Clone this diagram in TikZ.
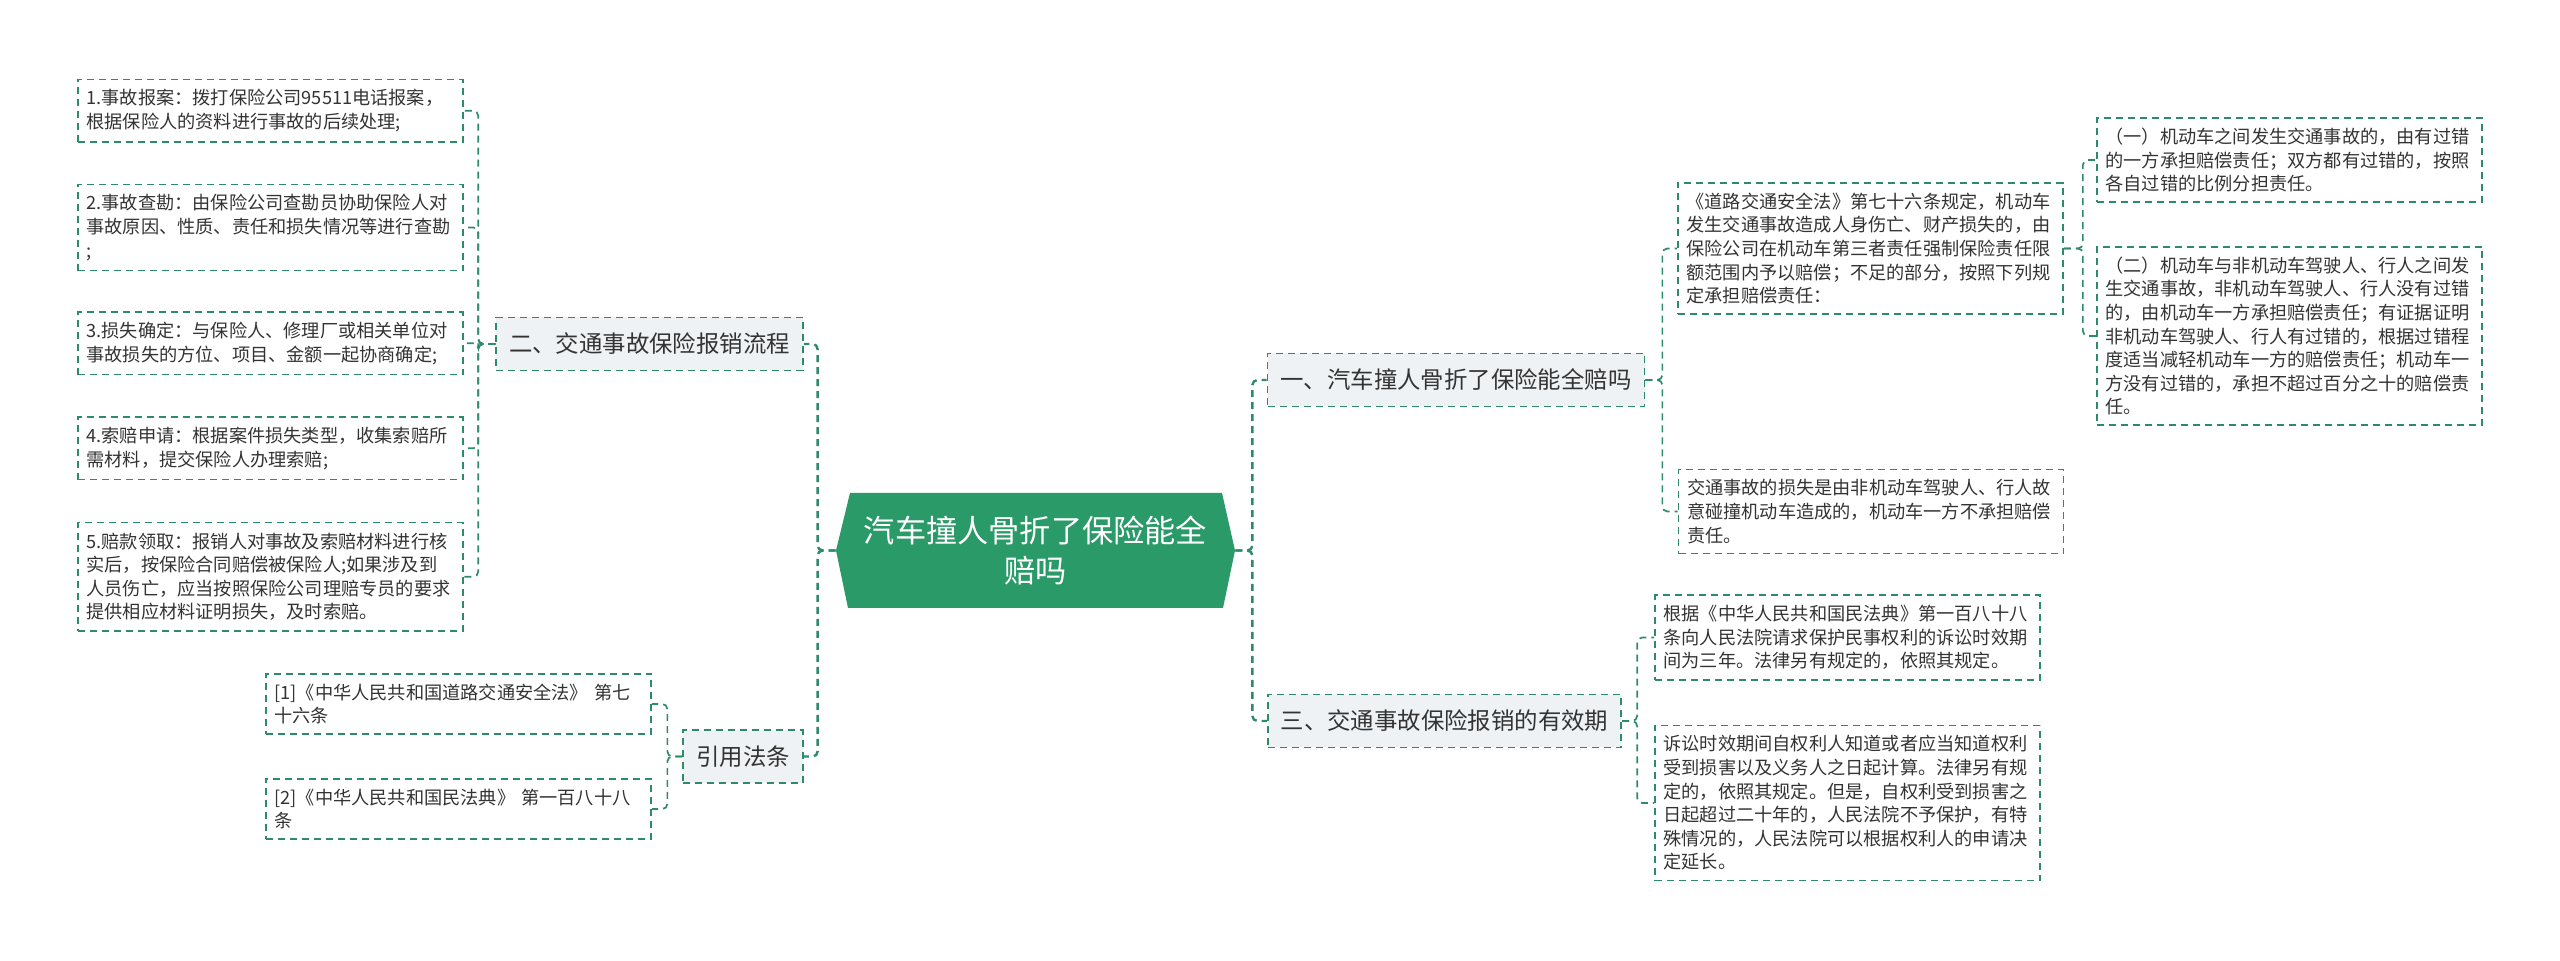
\documentclass[tikz,border=0pt]{standalone}
\usepackage{fontspec}
\setmainfont{Noto Sans CJK SC}
\definecolor{cRoot}{HTML}{2A9A68}
\definecolor{cLine}{HTML}{2E8B67}
\definecolor{cTopic}{HTML}{EEF2F5}
\definecolor{cText}{HTML}{333333}

\begin{document}
\begin{tikzpicture}[
    x=0.5pt, y=-0.5pt,
    dashline/.style={draw=cLine, line width=0.85pt, dash pattern=on 3.5pt off 2.5pt},
    root/.style={minimum width=199.5pt, minimum height=57.5pt, inner sep=0pt, align=center, text=white,
        font=\fontsize{15.6pt}{20pt}\selectfont,
        path picture={\fill[cRoot] (path picture bounding box.west)
            -- ([xshift=7pt]path picture bounding box.north west)
            -- ([xshift=-6.5pt]path picture bounding box.north east)
            -- (path picture bounding box.east)
            -- ([xshift=-6pt]path picture bounding box.south east)
            -- ([xshift=6pt]path picture bounding box.south west) -- cycle;}},
    topic/.style={dashline, fill=cTopic, inner xsep=6.5pt, minimum height=26.5pt, text=cText,
        font=\fontsize{11.7pt}{14pt}\selectfont},
    leaf/.style={dashline, align=left, text width=184pt, inner xsep=4.25pt, inner ysep=5pt, text=cText,
        font=\fontsize{9.1pt}{11.8pt}\selectfont},
    link/.style={dashline, rounded corners=2.5pt},
    trunk/.style={link, line width=1.2pt}
]
\useasboundingbox (0,0) rectangle (2560,961);

\node[root] (root) at (1035.5,550.5) {汽车撞人骨折了保险能全\\赔吗};

\node[topic] (s1) at (1456,380) {一、汽车撞人骨折了保险能全赔吗};
\node[topic] (s3) at (1444.5,721) {三、交通事故保险报销的有效期};
\node[topic] (s2) at (649.5,344) {二、交通事故保险报销流程};
\node[topic] (ref) at (743,756.5) {引用法条};

% right side
\node[leaf] (law) at (1870.5,248.5) {《道路交通安全法》第七十六条规定，机动车\\发生交通事故造成人身伤亡、财产损失的，由\\保险公司在机动车第三者责任强制保险责任限\\额范围内予以赔偿；不足的部分，按照下列规\\定承担赔偿责任：};
\node[leaf] (nonmv) at (1871,511.5) {交通事故的损失是由非机动车驾驶人、行人故\\意碰撞机动车造成的，机动车一方不承担赔偿\\责任。};
\node[leaf] (mv1) at (2289.5,160) {（一）机动车之间发生交通事故的，由有过错\\的一方承担赔偿责任；双方都有过错的，按照\\各自过错的比例分担责任。};
\node[leaf] (mv2) at (2289.5,336) {（二）机动车与非机动车驾驶人、行人之间发\\生交通事故，非机动车驾驶人、行人没有过错\\的，由机动车一方承担赔偿责任；有证据证明\\非机动车驾驶人、行人有过错的，根据过错程\\度适当减轻机动车一方的赔偿责任；机动车一\\方没有过错的，承担不超过百分之十的赔偿责\\任。};
\node[leaf] (civ) at (1847.5,637.5) {根据《中华人民共和国民法典》第一百八十八\\条向人民法院请求保护民事权利的诉讼时效期\\间为三年。法律另有规定的，依照其规定。};
\node[leaf] (suit) at (1847.5,803) {诉讼时效期间自权利人知道或者应当知道权利\\受到损害以及义务人之日起计算。法律另有规\\定的，依照其规定。但是，自权利受到损害之\\日起超过二十年的，人民法院不予保护，有特\\殊情况的，人民法院可以根据权利人的申请决\\定延长。};

% left side
\node[leaf] (flow1) at (270.5,110.8) {1.事故报案：拨打保险公司95511电话报案，\\根据保险人的资料进行事故的后续处理;};
\node[leaf] (flow2) at (270.5,227.5) {2.事故查勘：由保险公司查勘员协助保险人对\\事故原因、性质、责任和损失情况等进行查勘\\;};
\node[leaf] (flow3) at (270.5,343.3) {3.损失确定：与保险人、修理厂或相关单位对\\事故损失的方位、项目、金额一起协商确定;};
\node[leaf] (flow4) at (270.5,448.3) {4.索赔申请：根据案件损失类型，收集索赔所\\需材料，提交保险人办理索赔;};
\node[leaf] (flow5) at (270.5,576.7) {5.赔款领取：报销人对事故及索赔材料进行核\\实后，按保险合同赔偿被保险人;如果涉及到\\人员伤亡，应当按照保险公司理赔专员的要求\\提供相应材料证明损失，及时索赔。};
\node[leaf] (ref1) at (458.5,704) {[1]《中华人民共和国道路交通安全法》 第七\\十六条};
\node[leaf] (ref2) at (458.5,809) {[2]《中华人民共和国民法典》 第一百八十八\\条};

\draw[trunk] (root.east) -- ++(17,0) |- (s1.west);
\draw[trunk] (root.east) -- ++(17,0) |- (s3.west);
\draw[trunk] (root.west) -- ++(-18,0) |- (s2.east);
\draw[trunk] (root.west) -- ++(-18,0) |- (ref.east);

\draw[link] (s1.east) -- ++(17,0) |- (law.west);
\draw[link] (s1.east) -- ++(17,0) |- (nonmv.west);
\draw[link] (law.east) -- ++(19,0) |- (mv1.west);
\draw[link] (law.east) -- ++(19,0) |- (mv2.west);
\draw[link] (s3.east) -- ++(15,0) |- (civ.west);
\draw[link] (s3.east) -- ++(15,0) |- (suit.west);

\foreach \i in {1,...,5}
    \draw[link] (s2.west) -- ++(-17,0) |- (flow\i.east);
\draw[link] (ref.west) -- ++(-15,0) |- (ref1.east);
\draw[link] (ref.west) -- ++(-15,0) |- (ref2.east);

\end{tikzpicture}
\end{document}
